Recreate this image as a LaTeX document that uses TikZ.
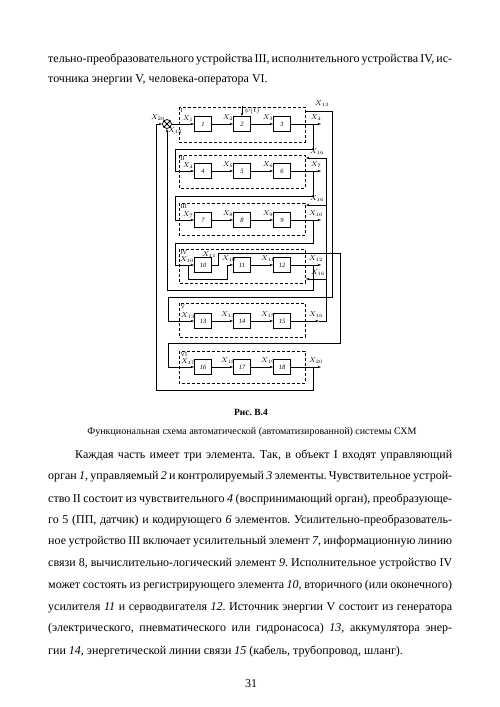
\documentclass[tikz,border=0pt]{standalone}
\usepackage{fontspec}
\setmainfont{Liberation Serif}
\usetikzlibrary{arrows.meta}
\newcommand{\jline}[2]{\makebox[#1][s]{#2}}
\frenchspacing
\begin{document}
\begin{tikzpicture}[x=1pt,y=-1pt,
  blk/.style={draw, line width=0.8pt, minimum width=17pt, minimum height=15pt, inner sep=0pt, font=\fontsize{6.5}{6.5}\selectfont\itshape},
  grp/.style={draw, dash pattern=on 3pt off 2pt, line width=0.6pt},
  wire/.style={line width=0.75pt},
  arr/.style={wire, -{Stealth[length=3.5pt,width=2.4pt]}},
  lab/.style={font=\fontsize{6.8}{6.8}\selectfont, inner sep=0.5pt},
  rom/.style={font=\fontsize{6}{6}\selectfont, inner sep=0pt, anchor=north west},
  body/.style={anchor=west, inner sep=0pt, font=\fontsize{12}{12}\selectfont},
]
\useasboundingbox (0,0) rectangle (500,707);
\fill[white] (0,0) rectangle (500,707);

% top text
\node[body] (t1) at (48,59) {\jline{404pt}{тельно-преобразовательного устройства III, исполнительного устройства IV, ис-}};
\node[body] (t2) at (48,80) {точника энергии V, человека-оператора VI.};

% dashed groups
\draw[grp] (179,107) rectangle (305,142);
\draw[grp] (179,155) rectangle (305,188);
\draw[grp] (179,203) rectangle (305,235);
\draw[grp] (179,249) rectangle (305,283);
\draw[grp] (179,303) rectangle (305,337);
\draw[grp] (179,351) rectangle (305,383);
\node[rom] (rI) at (180.5,108.5) {I};
\node[rom] (rII) at (180.5,156.5) {II};
\node[rom] (rIII) at (180.5,204.5) {III};
\node[rom] (rIV) at (180.5,250.5) {IV};
\node[rom] (rV) at (180.5,304.5) {V};
\node[rom] (rVI) at (180.5,352.5) {VI};

% blocks
\foreach \r/\y/\a/\b/\c in {1/124/1/2/3, 2/171/4/5/6, 3/220/7/8/9, 4/265/10/11/12, 5/321/13/14/15, 6/367/16/17/18}{
  \node[blk] (b\a) at (203,\y) {\a};
  \node[blk] (b\b) at (242,\y) {\b};
  \node[blk] (b\c) at (282,\y) {\c};
}
% summing junction
\node[draw, circle, minimum size=9pt, inner sep=0pt, line width=0.75pt] (s) at (167,124) {};
\draw[wire] (s.north west) -- (s.south east) (s.north east) -- (s.south west);

% row internal arrows
\draw[arr] (s) -- (b1);
\foreach \p/\q in {1/2,2/3,4/5,5/6,7/8,8/9,11/12,13/14,14/15,16/17,17/18}{
  \draw[arr] (b\p) -- (b\q);
}
% outputs
\coordinate (o1) at (321,124);
\coordinate (o2) at (321,171);
\coordinate (o3) at (321,220);
\coordinate (o4) at (321,265);
\coordinate (o6) at (321,367);
\draw[arr] (b3) -- (o1);
\draw[arr] (b6) -- (o2);
\draw[arr] (b9) -- (o3);
\draw[arr] (b12) -- (o4);
\draw[arr] (b18) -- (o6);
\coordinate (j1) at (313,124);
\coordinate (j2) at (313,171);
\coordinate (j3) at (313,220);
\coordinate (j4) at (313,265);
\coordinate (j6) at (313,367);
% chain loops
\coordinate (k1) at (175,149);
\coordinate (k2) at (175,196);
\coordinate (k3) at (175,243);
\draw[arr] (j1) |- (k1) |- (b4);
\draw[arr] (j2) |- (k2) |- (b7);
\draw[arr] (j3) |- (k3) |- (b10);
% feed-forward in IV
\coordinate (jf) at (188,265);
\coordinate (ff) at (227,279);
\draw[arr] (jf) |- (ff) |- (b11);
% X20 feedback
\coordinate (c20) at (156,390);
\draw[arr] (j6) |- (c20) |- (s);
% X12 feedback
\coordinate (c12) at (167,290);
\draw[arr] (j4) |- (c12) -- (s);
% X13
\coordinate (t13) at (305,111);
\coordinate (c13a) at (332,297);
\coordinate (c13b) at (168,297);
\draw[arr] (t13) -| (c13a) -- (c13b) |- (b13);
% X11 -> X17
\coordinate (u17) at (218,253);
\coordinate (c17a) at (340,343);
\coordinate (c17b) at (168,343);
\draw[arr] (b10.east) -| (u17) -| (c17a) -- (c17b) |- (b16);
% X16 bus
\coordinate (m16) at (319,321);
\coordinate (c16) at (326,321);
\coordinate (c16t) at (326,158);
\coordinate (c16m) at (326,205);
\coordinate (c16l) at (326,279);
\coordinate (e2) at (306,158);
\coordinate (e3) at (306,205);
\coordinate (e4) at (306,279);
\draw[arr] (b15) -- (m16);
\draw[wire] (m16) -- (c16) -- (c16t);
\draw[arr] (c16t) -- (e2);
\draw[arr] (c16m) -- (e3);
\draw[arr] (c16l) -- (e4);
% psi(t)
\coordinate (psi) at (242,106);
\draw[arr] (psi) -- (b2);
\node[lab, anchor=west] (lpsi) at (244,111) {$\psi(t)$};

% labels
\node[lab] (lx20a) at (158,118) {$X_{20}$};
\node[lab] (lx12a) at (175,131) {$X_{12}$};
\node[lab] (lx13a) at (322,104) {$X_{13}$};
\foreach \y/\a/\b/\c/\d in {124/1/2/3/4, 171/4/5/6/7, 220/7/8/9/10, 321/13/14/15/16, 367/17/18/19/20}{
  \node[lab] (lxa\a) at (188,\y-5.5) {$X_{\a}$};
  \node[lab] (lxb\b) at (228,\y-6) {$X_{\b}$};
  \node[lab] (lxc\c) at (268,\y-6) {$X_{\c}$};
  \node[lab] (lxd\d) at (316,\y-6) {$X_{\d}$};
}
\node[lab] (lx10i) at (187,259.5) {$X_{10}$};
\node[lab, anchor=east] (lx11u) at (217,255) {$X_{11}$};
\node[lab] (lx10b) at (229,259) {$X_{10}$};
\node[lab] (lx11c) at (268,259) {$X_{11}$};
\node[lab] (lx12o) at (316,259) {$X_{12}$};
\node[lab] (lx16b) at (317,152) {$X_{16}$};
\node[lab] (lx16c) at (317,199) {$X_{16}$};
\node[lab] (lx16d) at (318,273) {$X_{16}$};

% caption
\node[font=\fontsize{9.5}{9.5}\selectfont\bfseries] (cap1) at (251,412) {Рис. В.4};
\node[font=\fontsize{10}{10}\selectfont] (cap2) at (252,432) {Функциональная схема автоматической (автоматизированной) системы СХМ};

% body
\node[body] (p1) at (75,455) {\jline{377pt}{Каждая часть имеет три элемента. Так, в объект I входят управляющий}};
\node[body] (p2) at (48,477) {\jline{404pt}{орган \textit{1}, управляемый \textit{2} и контролируемый \textit{3} элементы. Чувствительное устрой-}};
\node[body] (p3) at (48,499) {\jline{404pt}{ство II состоит из чувствительного \textit{4} (воспринимающий орган), преобразующе-}};
\node[body] (p4) at (48,520) {\jline{404pt}{го 5 (ПП, датчик) и кодирующего \textit{6} элементов. Усилительно-преобразователь-}};
\node[body] (p5) at (48,542) {\jline{404pt}{ное устройство III включает усилительный элемент \textit{7}, информационную линию}};
\node[body] (p6) at (48,564) {\jline{404pt}{связи 8, вычислительно-логический элемент \textit{9}. Исполнительное устройство IV}};
\node[body] (p7) at (48,586) {\jline{404pt}{может состоять из регистрирующего элемента \textit{10}, вторичного (или оконечного)}};
\node[body] (p8) at (48,608) {\jline{404pt}{усилителя \textit{11} и серводвигателя \textit{12}. Источник энергии V состоит из генератора}};
\node[body] (p9) at (48,629) {\jline{404pt}{(электрического, пневматического или гидронасоса) \textit{13}, аккумулятора энер-}};
\node[body] (p10) at (48,651) {гии \textit{14}, энергетической линии связи \textit{15} (кабель, трубопровод, шланг).};
\node[font=\fontsize{12}{12}\selectfont] (pg) at (251,684) {31};
\end{tikzpicture}
\end{document}
